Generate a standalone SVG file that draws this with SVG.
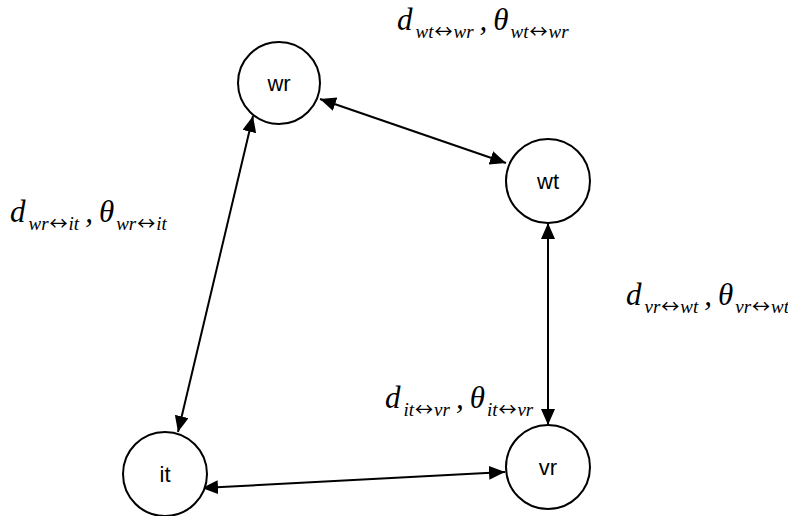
<svg xmlns="http://www.w3.org/2000/svg" width="788" height="516" viewBox="0 0 788 516">
  <style>
    .node circle { fill: #fff; stroke: #000; stroke-width: 2; }
    .node text { font-family: "Liberation Sans", Arial, sans-serif; font-size: 22px; text-anchor: middle; dominant-baseline: central; fill: #000; }
    .edge { stroke: #000; stroke-width: 2; fill: none; marker-start: url(#arrow); marker-end: url(#arrow); }
    .lbl { font-family: "Liberation Serif", "Times New Roman", serif; font-style: italic; fill: #000; }
    .big { font-size: 31px; }
    .sub { font-size: 19px; }
    .ar { font-family: "Noto Sans CJK JP", "DejaVu Sans", sans-serif; font-style: normal; font-size: 18px; }
  </style>
  <defs>
    <marker id="arrow" viewBox="0 0 16 14" refX="16" refY="7" markerWidth="16" markerHeight="14" markerUnits="userSpaceOnUse" orient="auto-start-reverse">
      <path d="M0,0 L16,7 L0,14 Z" fill="#000"/>
    </marker>
  </defs>
  <rect width="788" height="516" fill="#fff"/>

  <g id="connectors">
    <line class="edge" x1="320" y1="99" x2="506" y2="163"/>
    <line class="edge" x1="253" y1="116" x2="178" y2="432"/>
    <line class="edge" x1="548" y1="223" x2="548" y2="425"/>
    <line class="edge" x1="202" y1="488" x2="505" y2="472"/>
  </g>

  <g id="node-wr" class="node"><circle cx="279" cy="83" r="41"/><text x="279" y="83">wr</text></g>
  <g id="node-wt" class="node"><circle cx="548" cy="181" r="42"/><text x="548" y="181">wt</text></g>
  <g id="node-it" class="node"><circle cx="165" cy="474" r="42"/><text x="165" y="474">it</text></g>
  <g id="node-vr" class="node"><circle cx="548" cy="467" r="42"/><text x="548" y="467">vr</text></g>

  <g id="labels">
    <text class="lbl" x="397" y="30"><tspan class="big">d</tspan><tspan class="sub" dx="3" dy="8">wt</tspan><tspan class="ar" dx="1">↔</tspan><tspan class="sub" dx="1">wr</tspan><tspan class="big" dx="6" dy="-8">,</tspan><tspan class="big" dx="6">θ</tspan><tspan class="sub" dx="2" dy="8">wt</tspan><tspan class="ar" dx="1">↔</tspan><tspan class="sub" dx="1">wr</tspan></text>
    <text class="lbl" x="10" y="222"><tspan class="big">d</tspan><tspan class="sub" dx="3" dy="8">wr</tspan><tspan class="ar" dx="1">↔</tspan><tspan class="sub" dx="1">it</tspan><tspan class="big" dx="6" dy="-8">,</tspan><tspan class="big" dx="6">θ</tspan><tspan class="sub" dx="2" dy="8">wr</tspan><tspan class="ar" dx="1">↔</tspan><tspan class="sub" dx="1">it</tspan></text>
    <text class="lbl" x="626" y="305"><tspan class="big">d</tspan><tspan class="sub" dx="3" dy="8">vr</tspan><tspan class="ar" dx="1">↔</tspan><tspan class="sub" dx="1">wt</tspan><tspan class="big" dx="6" dy="-8">,</tspan><tspan class="big" dx="6">θ</tspan><tspan class="sub" dx="2" dy="8">vr</tspan><tspan class="ar" dx="1">↔</tspan><tspan class="sub" dx="1">wt</tspan></text>
    <text class="lbl" x="385" y="408"><tspan class="big">d</tspan><tspan class="sub" dx="3" dy="8">it</tspan><tspan class="ar" dx="1">↔</tspan><tspan class="sub" dx="1">vr</tspan><tspan class="big" dx="6" dy="-8">,</tspan><tspan class="big" dx="6">θ</tspan><tspan class="sub" dx="2" dy="8">it</tspan><tspan class="ar" dx="1">↔</tspan><tspan class="sub" dx="1">vr</tspan></text>
  </g>
</svg>
